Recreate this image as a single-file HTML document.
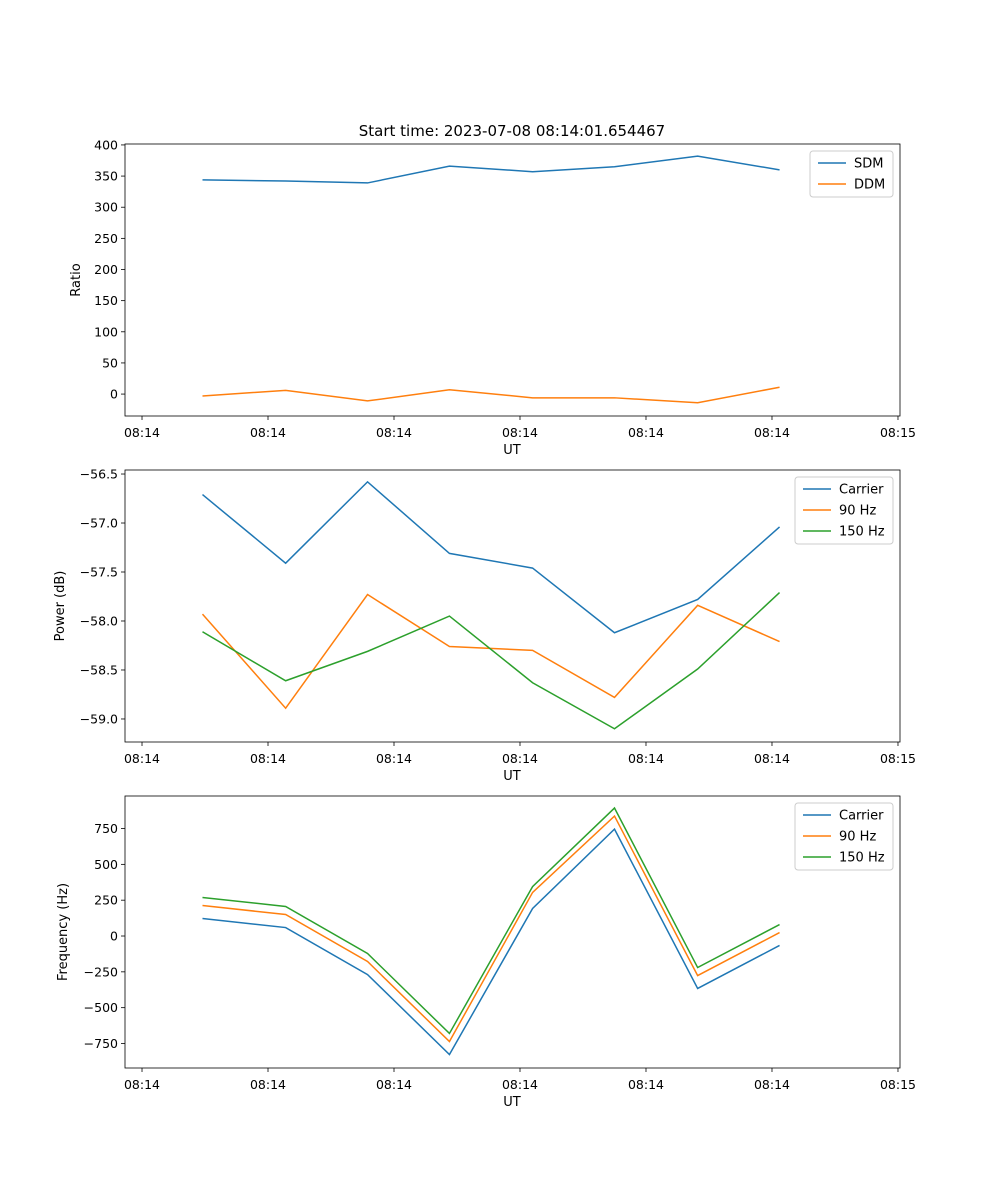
<!DOCTYPE html>
<html><head><meta charset="utf-8">
<style>
body{margin:0;background:#fff;}
svg{display:block;font-family:"DejaVu Sans","Liberation Sans",sans-serif;}
text{fill:#000;}
</style></head>
<body>
<svg id="chart" width="1000" height="1200" xmlns="http://www.w3.org/2000/svg">
<rect width="1000" height="1200" fill="#fff"/>
<text x="512" y="136" font-size="15" text-anchor="middle">Start time: 2023-07-08 08:14:01.654467</text>
</svg>
<script>
const times = [4.8, 11.4, 17.9, 24.4, 31.0, 37.5, 44.1, 50.6];
const xTickVals = [0, 10, 20, 30, 40, 50, 60];
const xTickLabels = ["08:14","08:14","08:14","08:14","08:14","08:14","08:15"];
const sdm = [344, 342, 339, 366, 357, 365, 382, 360];
const ddm = [-3, 6, -11, 7, -6, -6, -14, 11];
const powCarrier = [-56.71, -57.41, -56.58, -57.31, -57.46, -58.12, -57.78, -57.04];
const pow90 = [-57.93, -58.89, -57.73, -58.26, -58.30, -58.78, -57.84, -58.21];
const pow150 = [-58.11, -58.61, -58.31, -57.95, -58.63, -59.10, -58.49, -57.71];
const freqCarrier = [122, 59, -269, -827, 192, 746, -366, -66];
const freq90 = [213, 150, -178, -736, 304, 837, -276, 24];
const freq150 = [269, 206, -122, -680, 345, 893, -220, 80];
const ratioTicks = [0, 50, 100, 150, 200, 250, 300, 350, 400];
const powTicks = [-59.0, -58.5, -58.0, -57.5, -57.0, -56.5];
const freqTicks = [-750, -500, -250, 0, 250, 500, 750];

const NS = "http://www.w3.org/2000/svg";
const svg = document.getElementById('chart');
function mk(tag, attrs, parent){const e=document.createElementNS(NS,tag);for(const k in attrs)e.setAttribute(k,attrs[k]);(parent||svg).appendChild(e);return e;}
const L=125,R=900;
const xMin=-1.35,xMax=60.16;
function xs(t){return L+(t-xMin)/(xMax-xMin)*(R-L);}
function fmt(v,dec){let s=v.toFixed(dec);return s.replace('-','\u2212');}

function panel(name, top, yMin, yMax, ticks, dec, ylabel, series, legend){
  const B=top+272;
  const ys=v=>B-(v-yMin)/(yMax-yMin)*272;
  const g=mk('g',{});
  
  
  ticks.forEach(v=>{
    const y=ys(v);
    mk('line',{x1:L-4,x2:L,y1:y,y2:y,stroke:'#000','stroke-width':0.8},g);
    const t=mk('text',{x:L-7,y:y+4.5,'font-size':12.5,'text-anchor':'end'},g);
    t.textContent=fmt(v,dec);
    
    
  });
  xTickVals.forEach((v,i)=>{
    const x=xs(v);
    mk('line',{x1:x,x2:x,y1:B,y2:B+4,stroke:'#000','stroke-width':0.8},g);
    const t=mk('text',{x:x,y:B+21,'font-size':12.5,'text-anchor':'middle'},g);
    t.textContent=xTickLabels[i];
    
    
  });
  const xl=mk('text',{x:512,y:B+38,'font-size':13,'text-anchor':'middle'},g);
  xl.textContent='UT';
  
  
  const yl=mk('text',{x:0,y:0,'font-size':13,'text-anchor':'middle',transform:`translate(${ylabel[1]},${top+136}) rotate(-90)`},g);
  yl.textContent=ylabel[0];
  
  
  series.forEach(s=>{
    const p=mk('polyline',{points:s.data.map((v,i)=>xs(times[i])+','+ys(v)).join(' '),fill:'none',stroke:s.color,'stroke-width':1.5},g);
    
    
  });
  mk('rect',{x:L,y:top,width:R-L,height:272,fill:'none',stroke:'#000','stroke-width':0.8},g);
  const lg=mk('g',{},g);
  
  
  const lw=legend.w, lx=893-lw, ly=top+7;
  mk('rect',{x:lx,y:ly,width:lw,height:series.length*21+4,rx:3,fill:'#fff',stroke:'#ccc','stroke-width':1},lg);
  series.forEach((s,i)=>{
    const yy=ly+12+i*21;
    mk('line',{x1:lx+8,x2:lx+36,y1:yy,y2:yy,stroke:s.color,'stroke-width':1.5},lg);
    const t=mk('text',{x:lx+44,y:yy+4.5,'font-size':13},lg);
    t.textContent=s.label;
    
    
  });
}
panel('ratio-panel',144,-35.2,401.5,ratioTicks,0,['Ratio',80],
  [{id:'sdm-line',label:'SDM',color:'#1f77b4',data:sdm},{id:'ddm-line',label:'DDM',color:'#ff7f0e',data:ddm}],{w:83});
panel('power-panel',470,-59.235,-56.459,powTicks,1,['Power (dB)',64],
  [{id:'power-carrier-line',label:'Carrier',color:'#1f77b4',data:powCarrier},{id:'power-90hz-line',label:'90 Hz',color:'#ff7f0e',data:pow90},{id:'power-150hz-line',label:'150 Hz',color:'#2ca02c',data:pow150}],{w:98});
panel('frequency-panel',796,-921,977,freqTicks,0,['Frequency (Hz)',67],
  [{id:'freq-carrier-line',label:'Carrier',color:'#1f77b4',data:freqCarrier},{id:'freq-90hz-line',label:'90 Hz',color:'#ff7f0e',data:freq90},{id:'freq-150hz-line',label:'150 Hz',color:'#2ca02c',data:freq150}],{w:98});
</script>
</body></html>
